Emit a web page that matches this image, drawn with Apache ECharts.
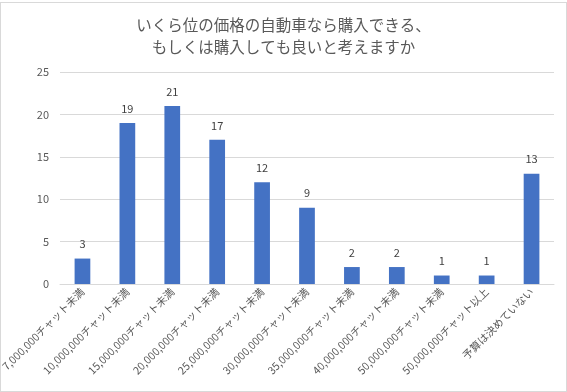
<!DOCTYPE html>
<html><head><meta charset="utf-8">
<script src="https://cdn.jsdelivr.net/npm/echarts@6/dist/echarts.min.js"></script>
<style>
html,body{margin:0;padding:0;background:#fff;}
#c{width:565px;height:388px;border:1px solid #d9d9d9;margin-top:2px;}
</style></head>
<body><div id="c"></div>
<script>
const titleText = "いくら位の価格の自動車なら購入できる、\nもしくは購入しても良いと考えますか";
const categories = ["7,000,000チャット未満","10,000,000チャット未満","15,000,000チャット未満","20,000,000チャット未満","25,000,000チャット未満","30,000,000チャット未満","35,000,000チャット未満","40,000,000チャット未満","50,000,000チャット未満","50,000,000チャット以上","予算は決めていない"];
const values = [3,19,21,17,12,9,2,2,1,1,13];
const yMin = 0, yMax = 25, yStep = 5;
const font = '"Noto Sans CJK JP", "Noto Sans", sans-serif';
const chart = echarts.init(document.getElementById('c'));
chart.setOption({
  animation:false,
  title:{text:titleText,left:'center',top:6,textStyle:{fontFamily:font,fontSize:15.5,fontWeight:'normal',color:'#595959',lineHeight:22}},
  grid:{left:59,right:12,top:69,bottom:107,outerBoundsMode:'none'},
  xAxis:{type:'category',data:categories,
    axisLine:{lineStyle:{color:'#d9d9d9'}},axisTick:{show:false},
    axisLabel:{rotate:45,interval:0,fontFamily:font,fontSize:10.6,color:'#595959',margin:6}},
  yAxis:{type:'value',min:yMin,max:yMax,interval:yStep,
    axisLine:{show:false},axisTick:{show:false},
    splitLine:{lineStyle:{color:'#d9d9d9',width:1}},
    axisLabel:{fontFamily:font,fontSize:11,color:'#595959',margin:11}},
  series:[{type:'bar',data:values,barWidth:'35%',
    itemStyle:{color:'#4472C4'},
    label:{show:true,position:'top',distance:9,fontFamily:font,fontSize:11,color:'#404040'}}]
});
</script></body></html>
